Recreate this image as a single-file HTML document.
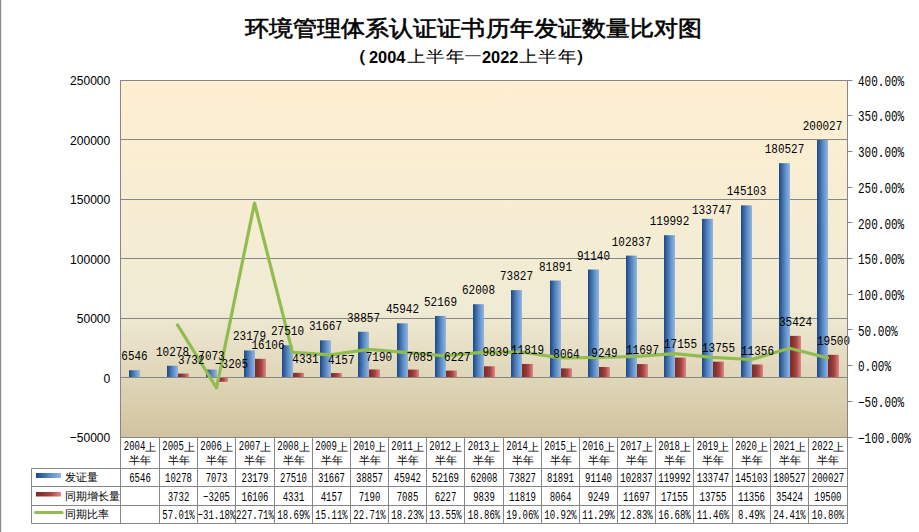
<!DOCTYPE html>
<html><head><meta charset="utf-8"><style>
html,body{margin:0;padding:0;background:#fff;width:919px;height:532px;overflow:hidden}
svg{display:block}
.m{font-family:"Liberation Mono",monospace;fill:#000}
.s{font-family:"Liberation Sans",sans-serif;fill:#000}
</style></head><body>
<svg width="919" height="532" viewBox="0 0 919 532">
<defs>
<linearGradient id="pg" x1="0" y1="0" x2="0" y2="1">
<stop offset="0" stop-color="#FFEFD1"/><stop offset="0.64" stop-color="#F0EBD5"/><stop offset="1" stop-color="#D1C39F"/>
</linearGradient>
<linearGradient id="bg" x1="0" y1="0" x2="1" y2="0">
<stop offset="0" stop-color="#1C4783"/><stop offset="0.5" stop-color="#5485C0"/><stop offset="1" stop-color="#95B7E2"/>
</linearGradient>
<linearGradient id="rg" x1="0" y1="0" x2="1" y2="0">
<stop offset="0" stop-color="#7C2C28"/><stop offset="0.35" stop-color="#8D3834"/><stop offset="0.6" stop-color="#B04646"/><stop offset="1" stop-color="#D98C8C"/>
</linearGradient>
</defs>
<rect x="0" y="0" width="1" height="532" fill="#8a8a8a"/>
<rect x="1" y="0" width="1" height="532" fill="#ececec"/>

<g transform="translate(473.5,35.8) scale(1.05,0.96)"><text x="0" y="0" text-anchor="middle" class="s" style="font-size:23px;font-weight:400" stroke="#000" stroke-width="0.6">环境管理体系认证证书历年发证数量比对图</text></g>
<g transform="translate(348,61.5) scale(1,0.88)"><text x="0" y="0" class="s" style="font-size:19px;font-weight:700">（</text></g>
<text x="369" y="62.6" class="s" style="font-size:16.4px;font-weight:700">2004</text>
<g transform="translate(407,62) scale(1,0.86)"><text x="0" y="0" class="s" style="font-size:19px;font-weight:500">上半年</text></g>
<rect x="465.3" y="55.2" width="15.4" height="1" fill="#333"/>
<text x="482" y="62.6" class="s" style="font-size:16.4px;font-weight:700">2022</text>
<g transform="translate(519,62) scale(1,0.86)"><text x="0" y="0" class="s" style="font-size:19px;font-weight:500">上半年</text></g>
<g transform="translate(575,61.5) scale(1,0.88)"><text x="0" y="0" class="s" style="font-size:19px;font-weight:700">）</text></g>
<rect x="120.5" y="80.5" width="727.0" height="357.0" fill="url(#pg)" stroke="#868686" stroke-width="1"/>
<line x1="120.5" y1="139.5" x2="847.5" y2="139.5" stroke="#868686" stroke-width="1"/>
<line x1="120.5" y1="199.5" x2="847.5" y2="199.5" stroke="#868686" stroke-width="1"/>
<line x1="120.5" y1="258.5" x2="847.5" y2="258.5" stroke="#868686" stroke-width="1"/>
<line x1="120.5" y1="318.5" x2="847.5" y2="318.5" stroke="#868686" stroke-width="1"/>
<line x1="120.5" y1="377.5" x2="847.5" y2="377.5" stroke="#868686" stroke-width="1"/>
<rect x="129" y="370.21" width="11" height="6.79" fill="url(#bg)"/>
<rect x="167" y="365.77" width="11" height="11.23" fill="url(#bg)"/>
<rect x="178" y="373.56" width="11" height="3.44" fill="url(#rg)"/>
<rect x="206" y="369.58" width="11" height="7.42" fill="url(#bg)"/>
<rect x="217" y="378" width="11" height="3.81" fill="url(#rg)"/>
<rect x="244" y="350.42" width="11" height="26.58" fill="url(#bg)"/>
<rect x="255" y="358.83" width="11" height="18.17" fill="url(#rg)"/>
<rect x="282" y="345.26" width="11" height="31.74" fill="url(#bg)"/>
<rect x="293" y="372.85" width="11" height="4.15" fill="url(#rg)"/>
<rect x="320" y="340.32" width="11" height="36.68" fill="url(#bg)"/>
<rect x="331" y="373.05" width="11" height="3.95" fill="url(#rg)"/>
<rect x="358" y="331.76" width="11" height="45.24" fill="url(#bg)"/>
<rect x="369" y="369.44" width="11" height="7.56" fill="url(#rg)"/>
<rect x="397" y="323.33" width="11" height="53.67" fill="url(#bg)"/>
<rect x="408" y="369.57" width="11" height="7.43" fill="url(#rg)"/>
<rect x="435" y="315.92" width="11" height="61.08" fill="url(#bg)"/>
<rect x="446" y="370.59" width="11" height="6.41" fill="url(#rg)"/>
<rect x="473" y="304.21" width="11" height="72.79" fill="url(#bg)"/>
<rect x="484" y="366.29" width="11" height="10.71" fill="url(#rg)"/>
<rect x="511" y="290.15" width="11" height="86.85" fill="url(#bg)"/>
<rect x="522" y="363.94" width="11" height="13.06" fill="url(#rg)"/>
<rect x="550" y="280.55" width="11" height="96.45" fill="url(#bg)"/>
<rect x="561" y="368.40" width="11" height="8.60" fill="url(#rg)"/>
<rect x="588" y="269.54" width="11" height="107.46" fill="url(#bg)"/>
<rect x="599" y="366.99" width="11" height="10.01" fill="url(#rg)"/>
<rect x="626" y="255.62" width="11" height="121.38" fill="url(#bg)"/>
<rect x="637" y="364.08" width="11" height="12.92" fill="url(#rg)"/>
<rect x="664" y="235.21" width="11" height="141.79" fill="url(#bg)"/>
<rect x="675" y="357.59" width="11" height="19.41" fill="url(#rg)"/>
<rect x="702" y="218.84" width="11" height="158.16" fill="url(#bg)"/>
<rect x="713" y="361.63" width="11" height="15.37" fill="url(#rg)"/>
<rect x="741" y="205.33" width="11" height="171.67" fill="url(#bg)"/>
<rect x="752" y="364.49" width="11" height="12.51" fill="url(#rg)"/>
<rect x="779" y="163.17" width="11" height="213.83" fill="url(#bg)"/>
<rect x="790" y="335.85" width="11" height="41.15" fill="url(#rg)"/>
<rect x="817" y="139.97" width="11" height="237.03" fill="url(#bg)"/>
<rect x="828" y="354.80" width="11" height="22.20" fill="url(#rg)"/>
<polyline points="177.5,324.9 216.5,387.9 254.5,203.0 292.5,352.3 330.5,354.8 368.5,349.4 407.5,352.6 445.5,355.9 483.5,352.1 521.5,352.0 560.5,357.8 598.5,357.5 636.5,356.4 674.5,353.7 712.5,357.4 751.5,359.5 789.5,348.2 827.5,357.9" fill="none" stroke="#92BC4F" stroke-width="3.2" stroke-linejoin="round" stroke-linecap="round"/>
<g>
<g transform="translate(134.5,360.2) scale(1,1.19)"><text x="0" y="0" text-anchor="middle" class="m" style="font-size:11px">6546</text></g>
<g transform="translate(172.5,355.8) scale(1,1.19)"><text x="0" y="0" text-anchor="middle" class="m" style="font-size:11px">10278</text></g>
<g transform="translate(191.3,363.6) scale(1,1.19)"><text x="0" y="0" text-anchor="middle" class="m" style="font-size:11px">3732</text></g>
<g transform="translate(211.5,359.6) scale(1,1.19)"><text x="0" y="0" text-anchor="middle" class="m" style="font-size:11px">7073</text></g>
<g transform="translate(231.5,368.0) scale(1,1.19)"><text x="0" y="0" text-anchor="middle" class="m" style="font-size:11px">&#8722;3205</text></g>
<g transform="translate(249.5,340.4) scale(1,1.19)"><text x="0" y="0" text-anchor="middle" class="m" style="font-size:11px">23179</text></g>
<g transform="translate(268.0,348.8) scale(1,1.19)"><text x="0" y="0" text-anchor="middle" class="m" style="font-size:11px">16106</text></g>
<g transform="translate(287.5,335.3) scale(1,1.19)"><text x="0" y="0" text-anchor="middle" class="m" style="font-size:11px">27510</text></g>
<g transform="translate(305.5,362.8) scale(1,1.19)"><text x="0" y="0" text-anchor="middle" class="m" style="font-size:11px">4331</text></g>
<g transform="translate(325.5,330.3) scale(1,1.19)"><text x="0" y="0" text-anchor="middle" class="m" style="font-size:11px">31667</text></g>
<g transform="translate(341.3,364.1) scale(1,1.19)"><text x="0" y="0" text-anchor="middle" class="m" style="font-size:11px">4157</text></g>
<g transform="translate(363.5,321.8) scale(1,1.19)"><text x="0" y="0" text-anchor="middle" class="m" style="font-size:11px">38857</text></g>
<g transform="translate(378.9,361.4) scale(1,1.19)"><text x="0" y="0" text-anchor="middle" class="m" style="font-size:11px">7190</text></g>
<g transform="translate(402.5,313.3) scale(1,1.19)"><text x="0" y="0" text-anchor="middle" class="m" style="font-size:11px">45942</text></g>
<g transform="translate(419.6,361.1) scale(1,1.19)"><text x="0" y="0" text-anchor="middle" class="m" style="font-size:11px">7085</text></g>
<g transform="translate(440.5,305.9) scale(1,1.19)"><text x="0" y="0" text-anchor="middle" class="m" style="font-size:11px">52169</text></g>
<g transform="translate(457.3,360.6) scale(1,1.19)"><text x="0" y="0" text-anchor="middle" class="m" style="font-size:11px">6227</text></g>
<g transform="translate(478.5,294.2) scale(1,1.19)"><text x="0" y="0" text-anchor="middle" class="m" style="font-size:11px">62008</text></g>
<g transform="translate(495.6,356.3) scale(1,1.19)"><text x="0" y="0" text-anchor="middle" class="m" style="font-size:11px">9839</text></g>
<g transform="translate(516.5,280.1) scale(1,1.19)"><text x="0" y="0" text-anchor="middle" class="m" style="font-size:11px">73827</text></g>
<g transform="translate(527.5,353.9) scale(1,1.19)"><text x="0" y="0" text-anchor="middle" class="m" style="font-size:11px">11819</text></g>
<g transform="translate(555.5,270.5) scale(1,1.19)"><text x="0" y="0" text-anchor="middle" class="m" style="font-size:11px">81891</text></g>
<g transform="translate(566.5,358.4) scale(1,1.19)"><text x="0" y="0" text-anchor="middle" class="m" style="font-size:11px">8064</text></g>
<g transform="translate(593.5,259.5) scale(1,1.19)"><text x="0" y="0" text-anchor="middle" class="m" style="font-size:11px">91140</text></g>
<g transform="translate(604.5,357.0) scale(1,1.19)"><text x="0" y="0" text-anchor="middle" class="m" style="font-size:11px">9249</text></g>
<g transform="translate(631.5,245.6) scale(1,1.19)"><text x="0" y="0" text-anchor="middle" class="m" style="font-size:11px">102837</text></g>
<g transform="translate(642.5,354.1) scale(1,1.19)"><text x="0" y="0" text-anchor="middle" class="m" style="font-size:11px">11697</text></g>
<g transform="translate(669.5,225.2) scale(1,1.19)"><text x="0" y="0" text-anchor="middle" class="m" style="font-size:11px">119992</text></g>
<g transform="translate(680.5,347.6) scale(1,1.19)"><text x="0" y="0" text-anchor="middle" class="m" style="font-size:11px">17155</text></g>
<g transform="translate(711.8,213.8) scale(1,1.19)"><text x="0" y="0" text-anchor="middle" class="m" style="font-size:11px">133747</text></g>
<g transform="translate(718.5,351.6) scale(1,1.19)"><text x="0" y="0" text-anchor="middle" class="m" style="font-size:11px">13755</text></g>
<g transform="translate(746.5,195.3) scale(1,1.19)"><text x="0" y="0" text-anchor="middle" class="m" style="font-size:11px">145103</text></g>
<g transform="translate(757.5,354.5) scale(1,1.19)"><text x="0" y="0" text-anchor="middle" class="m" style="font-size:11px">11356</text></g>
<g transform="translate(784.5,153.2) scale(1,1.19)"><text x="0" y="0" text-anchor="middle" class="m" style="font-size:11px">180527</text></g>
<g transform="translate(795.5,325.8) scale(1,1.19)"><text x="0" y="0" text-anchor="middle" class="m" style="font-size:11px">35424</text></g>
<g transform="translate(822.5,130.0) scale(1,1.19)"><text x="0" y="0" text-anchor="middle" class="m" style="font-size:11px">200027</text></g>
<g transform="translate(833.5,344.8) scale(1,1.19)"><text x="0" y="0" text-anchor="middle" class="m" style="font-size:11px">19500</text></g>
</g>
<g transform="translate(110.3,85.4) scale(0.93,1)"><text x="0" y="0" text-anchor="end" class="s" style="font-size:13px">250000</text></g>
<g transform="translate(110.3,144.9) scale(0.93,1)"><text x="0" y="0" text-anchor="end" class="s" style="font-size:13px">200000</text></g>
<g transform="translate(110.3,204.4) scale(0.93,1)"><text x="0" y="0" text-anchor="end" class="s" style="font-size:13px">150000</text></g>
<g transform="translate(110.3,263.9) scale(0.93,1)"><text x="0" y="0" text-anchor="end" class="s" style="font-size:13px">100000</text></g>
<g transform="translate(110.3,323.4) scale(0.93,1)"><text x="0" y="0" text-anchor="end" class="s" style="font-size:13px">50000</text></g>
<g transform="translate(110.3,382.9) scale(0.93,1)"><text x="0" y="0" text-anchor="end" class="s" style="font-size:13px">0</text></g>
<g transform="translate(110.3,442.4) scale(0.93,1)"><text x="0" y="0" text-anchor="end" class="s" style="font-size:13px">&#8722;50000</text></g>
<line x1="847.5" y1="80.5" x2="847.5" y2="437.5" stroke="#868686" stroke-width="1"/>
<line x1="847.5" y1="80.5" x2="852.5" y2="80.5" stroke="#868686" stroke-width="1"/>
<g transform="translate(858,85.7) scale(1,1.3)"><text x="0" y="0" class="m" style="font-size:11px">400.00%</text></g>
<line x1="847.5" y1="115.5" x2="852.5" y2="115.5" stroke="#868686" stroke-width="1"/>
<g transform="translate(858,121.4) scale(1,1.3)"><text x="0" y="0" class="m" style="font-size:11px">350.00%</text></g>
<line x1="847.5" y1="151.5" x2="852.5" y2="151.5" stroke="#868686" stroke-width="1"/>
<g transform="translate(858,157.1) scale(1,1.3)"><text x="0" y="0" class="m" style="font-size:11px">300.00%</text></g>
<line x1="847.5" y1="187.5" x2="852.5" y2="187.5" stroke="#868686" stroke-width="1"/>
<g transform="translate(858,192.8) scale(1,1.3)"><text x="0" y="0" class="m" style="font-size:11px">250.00%</text></g>
<line x1="847.5" y1="222.5" x2="852.5" y2="222.5" stroke="#868686" stroke-width="1"/>
<g transform="translate(858,228.5) scale(1,1.3)"><text x="0" y="0" class="m" style="font-size:11px">200.00%</text></g>
<line x1="847.5" y1="258.5" x2="852.5" y2="258.5" stroke="#868686" stroke-width="1"/>
<g transform="translate(858,264.2) scale(1,1.3)"><text x="0" y="0" class="m" style="font-size:11px">150.00%</text></g>
<line x1="847.5" y1="294.5" x2="852.5" y2="294.5" stroke="#868686" stroke-width="1"/>
<g transform="translate(858,300.0) scale(1,1.3)"><text x="0" y="0" class="m" style="font-size:11px">100.00%</text></g>
<line x1="847.5" y1="329.5" x2="852.5" y2="329.5" stroke="#868686" stroke-width="1"/>
<g transform="translate(858,335.7) scale(1,1.3)"><text x="0" y="0" class="m" style="font-size:11px">50.00%</text></g>
<line x1="847.5" y1="365.5" x2="852.5" y2="365.5" stroke="#868686" stroke-width="1"/>
<g transform="translate(858,371.4) scale(1,1.3)"><text x="0" y="0" class="m" style="font-size:11px">0.00%</text></g>
<line x1="847.5" y1="401.5" x2="852.5" y2="401.5" stroke="#868686" stroke-width="1"/>
<g transform="translate(858,407.1) scale(1,1.3)"><text x="0" y="0" class="m" style="font-size:11px">&#8722;50.00%</text></g>
<line x1="847.5" y1="437.5" x2="852.5" y2="437.5" stroke="#868686" stroke-width="1"/>
<g transform="translate(858,442.8) scale(1,1.3)"><text x="0" y="0" class="m" style="font-size:11px">&#8722;100.00%</text></g>
<line x1="120.5" y1="437.5" x2="120.5" y2="523.5" stroke="#868686" stroke-width="1"/>
<line x1="159.5" y1="437.5" x2="159.5" y2="523.5" stroke="#868686" stroke-width="1"/>
<line x1="197.5" y1="437.5" x2="197.5" y2="523.5" stroke="#868686" stroke-width="1"/>
<line x1="235.5" y1="437.5" x2="235.5" y2="523.5" stroke="#868686" stroke-width="1"/>
<line x1="274.5" y1="437.5" x2="274.5" y2="523.5" stroke="#868686" stroke-width="1"/>
<line x1="312.5" y1="437.5" x2="312.5" y2="523.5" stroke="#868686" stroke-width="1"/>
<line x1="350.5" y1="437.5" x2="350.5" y2="523.5" stroke="#868686" stroke-width="1"/>
<line x1="388.5" y1="437.5" x2="388.5" y2="523.5" stroke="#868686" stroke-width="1"/>
<line x1="426.5" y1="437.5" x2="426.5" y2="523.5" stroke="#868686" stroke-width="1"/>
<line x1="464.5" y1="437.5" x2="464.5" y2="523.5" stroke="#868686" stroke-width="1"/>
<line x1="503.5" y1="437.5" x2="503.5" y2="523.5" stroke="#868686" stroke-width="1"/>
<line x1="541.5" y1="437.5" x2="541.5" y2="523.5" stroke="#868686" stroke-width="1"/>
<line x1="579.5" y1="437.5" x2="579.5" y2="523.5" stroke="#868686" stroke-width="1"/>
<line x1="617.5" y1="437.5" x2="617.5" y2="523.5" stroke="#868686" stroke-width="1"/>
<line x1="655.5" y1="437.5" x2="655.5" y2="523.5" stroke="#868686" stroke-width="1"/>
<line x1="693.5" y1="437.5" x2="693.5" y2="523.5" stroke="#868686" stroke-width="1"/>
<line x1="732.5" y1="437.5" x2="732.5" y2="523.5" stroke="#868686" stroke-width="1"/>
<line x1="770.5" y1="437.5" x2="770.5" y2="523.5" stroke="#868686" stroke-width="1"/>
<line x1="808.5" y1="437.5" x2="808.5" y2="523.5" stroke="#868686" stroke-width="1"/>
<line x1="847.5" y1="437.5" x2="847.5" y2="523.5" stroke="#868686" stroke-width="1"/>
<line x1="31.5" y1="468.5" x2="848" y2="468.5" stroke="#868686" stroke-width="1"/>
<line x1="31.5" y1="486.5" x2="848" y2="486.5" stroke="#868686" stroke-width="1"/>
<line x1="31.5" y1="505.5" x2="848" y2="505.5" stroke="#868686" stroke-width="1"/>
<line x1="31.5" y1="523.5" x2="848" y2="523.5" stroke="#868686" stroke-width="1"/>
<line x1="31.5" y1="468.5" x2="31.5" y2="523.5" stroke="#868686" stroke-width="1"/>
<g transform="translate(123.80,450.2) scale(1,1.42)"><text x="0" y="0" class="m" style="font-size:9px">2004</text></g>
<text x="145.20" y="450.5" class="s" style="font-size:10.8px">上</text>
<text x="140.00" y="463.6" text-anchor="middle" class="s" style="font-size:10.8px">半年</text>
<g transform="translate(140.00,482.20) scale(1,1.42)"><text x="0" y="0" text-anchor="middle" class="m" style="font-size:9px">6546</text></g>
<g transform="translate(162.30,450.2) scale(1,1.42)"><text x="0" y="0" class="m" style="font-size:9px">2005</text></g>
<text x="183.70" y="450.5" class="s" style="font-size:10.8px">上</text>
<text x="178.50" y="463.6" text-anchor="middle" class="s" style="font-size:10.8px">半年</text>
<g transform="translate(178.50,482.20) scale(1,1.42)"><text x="0" y="0" text-anchor="middle" class="m" style="font-size:9px">10278</text></g>
<g transform="translate(178.50,501.00) scale(1,1.42)"><text x="0" y="0" text-anchor="middle" class="m" style="font-size:9px">3732</text></g>
<g transform="translate(178.50,519.00) scale(1,1.42)"><text x="0" y="0" text-anchor="middle" class="m" style="font-size:9px">57.01%</text></g>
<g transform="translate(200.30,450.2) scale(1,1.42)"><text x="0" y="0" class="m" style="font-size:9px">2006</text></g>
<text x="221.70" y="450.5" class="s" style="font-size:10.8px">上</text>
<text x="216.50" y="463.6" text-anchor="middle" class="s" style="font-size:10.8px">半年</text>
<g transform="translate(216.50,482.20) scale(1,1.42)"><text x="0" y="0" text-anchor="middle" class="m" style="font-size:9px">7073</text></g>
<g transform="translate(216.50,501.00) scale(1,1.42)"><text x="0" y="0" text-anchor="middle" class="m" style="font-size:9px">&#8722;3205</text></g>
<g transform="translate(216.50,519.00) scale(1,1.42)"><text x="0" y="0" text-anchor="middle" class="m" style="font-size:9px">&#8722;31.18%</text></g>
<g transform="translate(238.80,450.2) scale(1,1.42)"><text x="0" y="0" class="m" style="font-size:9px">2007</text></g>
<text x="260.20" y="450.5" class="s" style="font-size:10.8px">上</text>
<text x="255.00" y="463.6" text-anchor="middle" class="s" style="font-size:10.8px">半年</text>
<g transform="translate(255.00,482.20) scale(1,1.42)"><text x="0" y="0" text-anchor="middle" class="m" style="font-size:9px">23179</text></g>
<g transform="translate(255.00,501.00) scale(1,1.42)"><text x="0" y="0" text-anchor="middle" class="m" style="font-size:9px">16106</text></g>
<g transform="translate(255.00,519.00) scale(1,1.42)"><text x="0" y="0" text-anchor="middle" class="m" style="font-size:9px">227.71%</text></g>
<g transform="translate(277.30,450.2) scale(1,1.42)"><text x="0" y="0" class="m" style="font-size:9px">2008</text></g>
<text x="298.70" y="450.5" class="s" style="font-size:10.8px">上</text>
<text x="293.50" y="463.6" text-anchor="middle" class="s" style="font-size:10.8px">半年</text>
<g transform="translate(293.50,482.20) scale(1,1.42)"><text x="0" y="0" text-anchor="middle" class="m" style="font-size:9px">27510</text></g>
<g transform="translate(293.50,501.00) scale(1,1.42)"><text x="0" y="0" text-anchor="middle" class="m" style="font-size:9px">4331</text></g>
<g transform="translate(293.50,519.00) scale(1,1.42)"><text x="0" y="0" text-anchor="middle" class="m" style="font-size:9px">18.69%</text></g>
<g transform="translate(315.30,450.2) scale(1,1.42)"><text x="0" y="0" class="m" style="font-size:9px">2009</text></g>
<text x="336.70" y="450.5" class="s" style="font-size:10.8px">上</text>
<text x="331.50" y="463.6" text-anchor="middle" class="s" style="font-size:10.8px">半年</text>
<g transform="translate(331.50,482.20) scale(1,1.42)"><text x="0" y="0" text-anchor="middle" class="m" style="font-size:9px">31667</text></g>
<g transform="translate(331.50,501.00) scale(1,1.42)"><text x="0" y="0" text-anchor="middle" class="m" style="font-size:9px">4157</text></g>
<g transform="translate(331.50,519.00) scale(1,1.42)"><text x="0" y="0" text-anchor="middle" class="m" style="font-size:9px">15.11%</text></g>
<g transform="translate(353.30,450.2) scale(1,1.42)"><text x="0" y="0" class="m" style="font-size:9px">2010</text></g>
<text x="374.70" y="450.5" class="s" style="font-size:10.8px">上</text>
<text x="369.50" y="463.6" text-anchor="middle" class="s" style="font-size:10.8px">半年</text>
<g transform="translate(369.50,482.20) scale(1,1.42)"><text x="0" y="0" text-anchor="middle" class="m" style="font-size:9px">38857</text></g>
<g transform="translate(369.50,501.00) scale(1,1.42)"><text x="0" y="0" text-anchor="middle" class="m" style="font-size:9px">7190</text></g>
<g transform="translate(369.50,519.00) scale(1,1.42)"><text x="0" y="0" text-anchor="middle" class="m" style="font-size:9px">22.71%</text></g>
<g transform="translate(391.30,450.2) scale(1,1.42)"><text x="0" y="0" class="m" style="font-size:9px">2011</text></g>
<text x="412.70" y="450.5" class="s" style="font-size:10.8px">上</text>
<text x="407.50" y="463.6" text-anchor="middle" class="s" style="font-size:10.8px">半年</text>
<g transform="translate(407.50,482.20) scale(1,1.42)"><text x="0" y="0" text-anchor="middle" class="m" style="font-size:9px">45942</text></g>
<g transform="translate(407.50,501.00) scale(1,1.42)"><text x="0" y="0" text-anchor="middle" class="m" style="font-size:9px">7085</text></g>
<g transform="translate(407.50,519.00) scale(1,1.42)"><text x="0" y="0" text-anchor="middle" class="m" style="font-size:9px">18.23%</text></g>
<g transform="translate(429.30,450.2) scale(1,1.42)"><text x="0" y="0" class="m" style="font-size:9px">2012</text></g>
<text x="450.70" y="450.5" class="s" style="font-size:10.8px">上</text>
<text x="445.50" y="463.6" text-anchor="middle" class="s" style="font-size:10.8px">半年</text>
<g transform="translate(445.50,482.20) scale(1,1.42)"><text x="0" y="0" text-anchor="middle" class="m" style="font-size:9px">52169</text></g>
<g transform="translate(445.50,501.00) scale(1,1.42)"><text x="0" y="0" text-anchor="middle" class="m" style="font-size:9px">6227</text></g>
<g transform="translate(445.50,519.00) scale(1,1.42)"><text x="0" y="0" text-anchor="middle" class="m" style="font-size:9px">13.55%</text></g>
<g transform="translate(467.80,450.2) scale(1,1.42)"><text x="0" y="0" class="m" style="font-size:9px">2013</text></g>
<text x="489.20" y="450.5" class="s" style="font-size:10.8px">上</text>
<text x="484.00" y="463.6" text-anchor="middle" class="s" style="font-size:10.8px">半年</text>
<g transform="translate(484.00,482.20) scale(1,1.42)"><text x="0" y="0" text-anchor="middle" class="m" style="font-size:9px">62008</text></g>
<g transform="translate(484.00,501.00) scale(1,1.42)"><text x="0" y="0" text-anchor="middle" class="m" style="font-size:9px">9839</text></g>
<g transform="translate(484.00,519.00) scale(1,1.42)"><text x="0" y="0" text-anchor="middle" class="m" style="font-size:9px">18.86%</text></g>
<g transform="translate(506.30,450.2) scale(1,1.42)"><text x="0" y="0" class="m" style="font-size:9px">2014</text></g>
<text x="527.70" y="450.5" class="s" style="font-size:10.8px">上</text>
<text x="522.50" y="463.6" text-anchor="middle" class="s" style="font-size:10.8px">半年</text>
<g transform="translate(522.50,482.20) scale(1,1.42)"><text x="0" y="0" text-anchor="middle" class="m" style="font-size:9px">73827</text></g>
<g transform="translate(522.50,501.00) scale(1,1.42)"><text x="0" y="0" text-anchor="middle" class="m" style="font-size:9px">11819</text></g>
<g transform="translate(522.50,519.00) scale(1,1.42)"><text x="0" y="0" text-anchor="middle" class="m" style="font-size:9px">19.06%</text></g>
<g transform="translate(544.30,450.2) scale(1,1.42)"><text x="0" y="0" class="m" style="font-size:9px">2015</text></g>
<text x="565.70" y="450.5" class="s" style="font-size:10.8px">上</text>
<text x="560.50" y="463.6" text-anchor="middle" class="s" style="font-size:10.8px">半年</text>
<g transform="translate(560.50,482.20) scale(1,1.42)"><text x="0" y="0" text-anchor="middle" class="m" style="font-size:9px">81891</text></g>
<g transform="translate(560.50,501.00) scale(1,1.42)"><text x="0" y="0" text-anchor="middle" class="m" style="font-size:9px">8064</text></g>
<g transform="translate(560.50,519.00) scale(1,1.42)"><text x="0" y="0" text-anchor="middle" class="m" style="font-size:9px">10.92%</text></g>
<g transform="translate(582.30,450.2) scale(1,1.42)"><text x="0" y="0" class="m" style="font-size:9px">2016</text></g>
<text x="603.70" y="450.5" class="s" style="font-size:10.8px">上</text>
<text x="598.50" y="463.6" text-anchor="middle" class="s" style="font-size:10.8px">半年</text>
<g transform="translate(598.50,482.20) scale(1,1.42)"><text x="0" y="0" text-anchor="middle" class="m" style="font-size:9px">91140</text></g>
<g transform="translate(598.50,501.00) scale(1,1.42)"><text x="0" y="0" text-anchor="middle" class="m" style="font-size:9px">9249</text></g>
<g transform="translate(598.50,519.00) scale(1,1.42)"><text x="0" y="0" text-anchor="middle" class="m" style="font-size:9px">11.29%</text></g>
<g transform="translate(620.30,450.2) scale(1,1.42)"><text x="0" y="0" class="m" style="font-size:9px">2017</text></g>
<text x="641.70" y="450.5" class="s" style="font-size:10.8px">上</text>
<text x="636.50" y="463.6" text-anchor="middle" class="s" style="font-size:10.8px">半年</text>
<g transform="translate(636.50,482.20) scale(1,1.42)"><text x="0" y="0" text-anchor="middle" class="m" style="font-size:9px">102837</text></g>
<g transform="translate(636.50,501.00) scale(1,1.42)"><text x="0" y="0" text-anchor="middle" class="m" style="font-size:9px">11697</text></g>
<g transform="translate(636.50,519.00) scale(1,1.42)"><text x="0" y="0" text-anchor="middle" class="m" style="font-size:9px">12.83%</text></g>
<g transform="translate(658.30,450.2) scale(1,1.42)"><text x="0" y="0" class="m" style="font-size:9px">2018</text></g>
<text x="679.70" y="450.5" class="s" style="font-size:10.8px">上</text>
<text x="674.50" y="463.6" text-anchor="middle" class="s" style="font-size:10.8px">半年</text>
<g transform="translate(674.50,482.20) scale(1,1.42)"><text x="0" y="0" text-anchor="middle" class="m" style="font-size:9px">119992</text></g>
<g transform="translate(674.50,501.00) scale(1,1.42)"><text x="0" y="0" text-anchor="middle" class="m" style="font-size:9px">17155</text></g>
<g transform="translate(674.50,519.00) scale(1,1.42)"><text x="0" y="0" text-anchor="middle" class="m" style="font-size:9px">16.68%</text></g>
<g transform="translate(696.80,450.2) scale(1,1.42)"><text x="0" y="0" class="m" style="font-size:9px">2019</text></g>
<text x="718.20" y="450.5" class="s" style="font-size:10.8px">上</text>
<text x="713.00" y="463.6" text-anchor="middle" class="s" style="font-size:10.8px">半年</text>
<g transform="translate(713.00,482.20) scale(1,1.42)"><text x="0" y="0" text-anchor="middle" class="m" style="font-size:9px">133747</text></g>
<g transform="translate(713.00,501.00) scale(1,1.42)"><text x="0" y="0" text-anchor="middle" class="m" style="font-size:9px">13755</text></g>
<g transform="translate(713.00,519.00) scale(1,1.42)"><text x="0" y="0" text-anchor="middle" class="m" style="font-size:9px">11.46%</text></g>
<g transform="translate(735.30,450.2) scale(1,1.42)"><text x="0" y="0" class="m" style="font-size:9px">2020</text></g>
<text x="756.70" y="450.5" class="s" style="font-size:10.8px">上</text>
<text x="751.50" y="463.6" text-anchor="middle" class="s" style="font-size:10.8px">半年</text>
<g transform="translate(751.50,482.20) scale(1,1.42)"><text x="0" y="0" text-anchor="middle" class="m" style="font-size:9px">145103</text></g>
<g transform="translate(751.50,501.00) scale(1,1.42)"><text x="0" y="0" text-anchor="middle" class="m" style="font-size:9px">11356</text></g>
<g transform="translate(751.50,519.00) scale(1,1.42)"><text x="0" y="0" text-anchor="middle" class="m" style="font-size:9px">8.49%</text></g>
<g transform="translate(773.30,450.2) scale(1,1.42)"><text x="0" y="0" class="m" style="font-size:9px">2021</text></g>
<text x="794.70" y="450.5" class="s" style="font-size:10.8px">上</text>
<text x="789.50" y="463.6" text-anchor="middle" class="s" style="font-size:10.8px">半年</text>
<g transform="translate(789.50,482.20) scale(1,1.42)"><text x="0" y="0" text-anchor="middle" class="m" style="font-size:9px">180527</text></g>
<g transform="translate(789.50,501.00) scale(1,1.42)"><text x="0" y="0" text-anchor="middle" class="m" style="font-size:9px">35424</text></g>
<g transform="translate(789.50,519.00) scale(1,1.42)"><text x="0" y="0" text-anchor="middle" class="m" style="font-size:9px">24.41%</text></g>
<g transform="translate(811.80,450.2) scale(1,1.42)"><text x="0" y="0" class="m" style="font-size:9px">2022</text></g>
<text x="833.20" y="450.5" class="s" style="font-size:10.8px">上</text>
<text x="828.00" y="463.6" text-anchor="middle" class="s" style="font-size:10.8px">半年</text>
<g transform="translate(828.00,482.20) scale(1,1.42)"><text x="0" y="0" text-anchor="middle" class="m" style="font-size:9px">200027</text></g>
<g transform="translate(828.00,501.00) scale(1,1.42)"><text x="0" y="0" text-anchor="middle" class="m" style="font-size:9px">19500</text></g>
<g transform="translate(828.00,519.00) scale(1,1.42)"><text x="0" y="0" text-anchor="middle" class="m" style="font-size:9px">10.80%</text></g>
<rect x="36" y="473" width="25" height="5" fill="url(#bg)"/>
<rect x="36" y="492" width="25" height="4.5" fill="url(#rg)"/>
<line x1="35.5" y1="512.4" x2="62" y2="512.4" stroke="#92BC4F" stroke-width="3" stroke-linecap="round"/>
<text x="65" y="480.8" class="s" style="font-size:10.5px">发证量</text>
<text x="65" y="499.8" class="s" style="font-size:10.5px">同期增长量</text>
<text x="65" y="517.8" class="s" style="font-size:10.5px">同期比率</text>
</svg></body></html>
